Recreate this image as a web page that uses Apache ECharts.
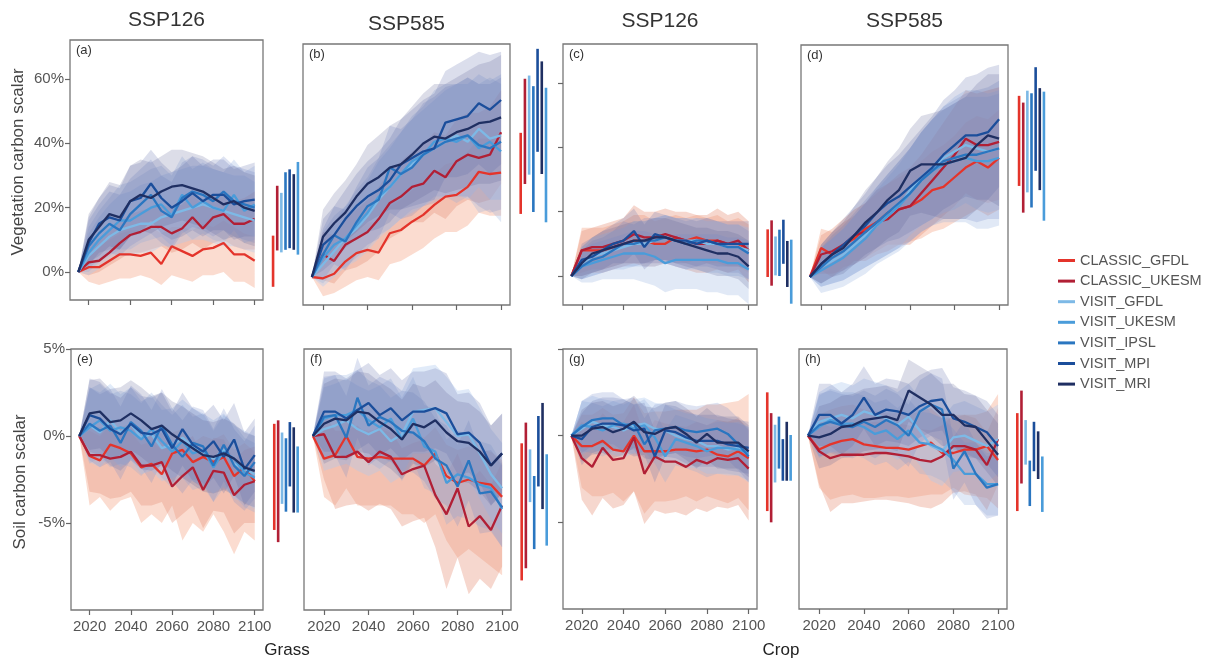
<!DOCTYPE html>
<html>
<head>
<meta charset="utf-8">
<title>Carbon scalar</title>
<script src="https://cdn.jsdelivr.net/npm/echarts@6/dist/echarts.min.js"></script>
<style>
  html, body { margin: 0; padding: 0; background: #fff; }
  #main { width: 1210px; height: 662px; }
</style>
</head>
<body>
<div id="main"></div>
<script>
const years = [2015, 2020, 2025, 2030, 2035, 2040, 2045, 2050, 2055, 2060, 2065, 2070, 2075, 2080, 2085, 2090, 2095, 2100]
const models = ['CLASSIC_GFDL', 'CLASSIC_UKESM', 'VISIT_GFDL', 'VISIT_UKESM', 'VISIT_IPSL', 'VISIT_MPI', 'VISIT_MRI']
const yearTicks = [2020, 2040, 2060, 2080, 2100]
const vegTicks = [0, 20, 40, 60]
const soilTicks = [-5, 0, 5]
const scenarios = ['SSP126', 'SSP585', 'SSP126', 'SSP585']
const panelTags = ['(a)', '(b)', '(c)', '(d)', '(e)', '(f)', '(g)', '(h)']
// slot of each model in the range bars beside a panel
const barSlot = [0, 1, 2, 6, 3, 4, 5]

// rows follow models order; values in %
const aMid = [
  [0, 1.5, 1.5, 3.5, 5.5, 5.5, 5, 6, 2.5, 8, 6.5, 5, 7, 7.5, 9, 5.5, 5.5, 3.5],
  [0, 3, 3.5, 6, 9, 11.5, 12.5, 14, 14, 12, 13.5, 17, 13.5, 17, 18, 15, 15, 16.5],
  [0, 5, 8, 11, 13, 14, 15, 15, 17, 18, 19, 20, 21, 20, 19, 18, 17, 16],
  [0, 6, 10, 13, 16, 16, 18, 20, 21, 17.5, 24, 20, 22, 20, 19, 24, 19, 21],
  [0, 8, 12, 15, 13, 18, 21, 24, 19, 17, 23, 25, 24, 22, 25, 22, 21, 20],
  [0, 9, 15, 17, 16, 22, 23, 27.5, 23, 20, 22, 24.5, 22, 24, 24, 21, 22, 22.5],
  [0, 10, 14, 18, 17, 22, 24, 23, 25, 26.5, 27, 26, 25, 23, 21, 22, 20, 19]
]
const aLo = [
  [0, -3, -4, -3, -2, -2, -1, -2, -4, -1, -2, -3, -1, -1, 0, -3, -3, -5],
  [0, -1, 0, 2, 4, 6, 6, 7, 8, 6, 7, 9, 7, 9, 10, 8, 7, 7],
  [0, -1, 1, 3, 5, 5, 6, 6, 8, 8, 9, 10, 10, 9, 8, 8, 7, 6],
  [0, 0, 3, 5, 7, 7, 9, 10, 11, 8, 13, 10, 12, 10, 9, 13, 9, 10],
  [0, 1, 4, 6, 5, 8, 10, 12, 9, 7, 12, 14, 13, 11, 13, 11, 10, 9],
  [0, 2, 6, 7, 7, 11, 12, 16, 12, 10, 11, 13, 11, 13, 13, 10, 11, 11],
  [0, 3, 5, 8, 7, 11, 13, 12, 14, 15, 16, 15, 14, 12, 10, 11, 9, 8]
]
const aHi = [
  [0, 6, 8, 10, 12, 13, 13, 14, 12, 14, 14, 13, 15, 14, 16, 14, 12, 11],
  [0, 8, 10, 13, 16, 18, 19, 20, 21, 20, 21, 24, 21, 24, 25, 22, 23, 25],
  [0, 12, 17, 21, 24, 25, 27, 28, 30, 31, 32, 33, 33, 32, 31, 30, 30, 28],
  [0, 14, 19, 23, 27, 28, 30, 32, 33, 30, 36, 32, 34, 32, 31, 35, 31, 33],
  [0, 16, 21, 25, 24, 29, 32, 35, 30, 28, 34, 36, 35, 33, 36, 33, 32, 31],
  [0, 17, 23, 27, 26, 33, 34, 38, 34, 31, 33, 36, 33, 35, 35, 32, 33, 34],
  [0, 18, 23, 28, 27, 33, 35, 34, 36, 38, 38, 37, 36, 34, 32, 33, 31, 30]
]
const aBar = [[-4.6, 11.3], [6.7, 26.8], [6.1, 24.6], [5.4, 34.2], [6.9, 31], [7.4, 31.9], [6.9, 30.4]]

const bMid = [
  [0, -0.4, 1, 4.8, 7.4, 8.4, 7.6, 13.6, 14.6, 17.2, 19.3, 22.4, 25, 25.5, 28, 32.7, 32, 32.4],
  [0, 7, 5, 10, 12, 14, 18, 23, 25, 28, 29, 33, 31, 36, 38, 37, 38, 45],
  [0, 4, 8, 12, 15, 19, 24, 28, 32, 35, 38, 40, 42, 44, 42, 46, 43, 44],
  [0, 6, 10, 12, 16, 20, 25, 28, 32, 36, 38, 42, 43, 42, 44, 40, 42, 39],
  [0, 7, 13, 11, 17, 22, 24, 34, 32, 34, 38, 40, 42, 43, 44, 41, 40, 42],
  [0, 10, 13, 18, 22, 25, 27, 30, 35, 37, 39, 40, 48, 49, 50, 54, 52, 55],
  [0, 12.5, 16.7, 20, 25, 29, 31, 34, 35, 38, 41.5, 43.6, 43, 45, 46, 47.8, 48.3, 49.6]
]
const bLo = [
  [0, -6, -5, -3, -1, 0, -1, 4, 5, 7, 9, 12, 14, 14, 16, 20, 19, 19],
  [0, -1, -2, 2, 3, 5, 8, 12, 14, 17, 17, 20, 18, 22, 24, 23, 24, 29],
  [0, -3, 0, 3, 5, 8, 12, 15, 18, 20, 22, 24, 25, 26, 24, 28, 24, 24],
  [0, -2, 2, 3, 6, 9, 13, 15, 18, 21, 22, 25, 25, 23, 25, 20, 21, 17],
  [0, -1, 4, 2, 7, 10, 12, 20, 18, 19, 22, 23, 25, 25, 25, 22, 20, 21],
  [0, 2, 5, 9, 12, 14, 15, 17, 21, 22, 23, 24, 31, 31, 32, 35, 32, 35],
  [0, 4, 8, 11, 14, 17, 19, 21, 21, 23, 25, 27, 26, 27, 28, 29, 29, 30]
]
const bHi = [
  [0, 5, 8, 12, 15, 17, 17, 22, 24, 27, 29, 32, 35, 36, 39, 43, 43, 44],
  [0, 14, 13, 18, 21, 24, 28, 33, 36, 39, 41, 45, 44, 49, 51, 51, 53, 58],
  [0, 12, 17, 22, 25, 30, 36, 40, 45, 49, 52, 55, 58, 60, 60, 63, 61, 63],
  [0, 14, 19, 22, 27, 31, 37, 41, 45, 50, 53, 58, 60, 60, 62, 60, 62, 60],
  [0, 15, 22, 21, 28, 34, 37, 47, 46, 49, 54, 56, 59, 60, 62, 60, 60, 62],
  [0, 18, 22, 27, 32, 36, 39, 43, 49, 52, 55, 57, 64, 66, 68, 70, 69, 70],
  [0, 21, 26, 30, 35, 41, 44, 47, 49, 53, 57, 60, 60, 62, 64, 66, 67, 69]
]
const bBar = [[19.6, 44.8], [28.9, 61.6], [31.8, 62.6], [17, 58.8], [20.2, 59.3], [38.9, 70.9], [32, 67]]

const cMid = [
  [0, 8, 8, 8, 9, 10, 11, 11, 10, 10, 12, 11, 12, 11, 11, 10, 10, 8],
  [0, 8, 9, 9, 10, 11, 13, 12, 12, 13, 12, 11, 10, 10, 11, 10, 11, 8],
  [0, 4, 6, 7, 8, 9, 10, 10, 11, 12, 11, 11, 11, 10, 10, 9, 9, 8],
  [0, 3, 4, 5, 6, 7, 7, 7, 6, 4, 5, 5, 5, 5, 5, 4, 4, 2],
  [0, 3, 5, 6, 8, 10, 10, 11, 11, 12, 11, 10, 11, 11, 10, 9, 9, 7],
  [0, 5, 6, 8, 10, 11, 14, 9, 13, 12, 11, 11, 10, 11, 10, 10, 10, 10],
  [0, 4, 7, 8, 9, 10, 11, 11, 12, 12, 11, 10, 9, 8, 7, 7, 6, 3]
]
const cLo = [
  [0, 1, 2, 2, 3, 4, 4, 4, 4, 4, 5, 4, 5, 4, 4, 3, 3, 1],
  [0, 0, 1, 1, 2, 3, 4, 3, 3, 4, 3, 2, 1, 1, 2, 1, 2, -2],
  [0, -1, 0, 1, 2, 2, 3, 3, 3, 4, 3, 2, 2, 1, 1, 0, 0, -1],
  [0, -2, -2, -1, -1, -1, -1, -2, -3, -5, -4, -4, -4, -5, -5, -6, -6, -8.8],
  [0, -1, 0, 1, 2, 3, 3, 4, 4, 4, 3, 2, 3, 3, 2, 1, 1, -1],
  [0, 0, 1, 2, 4, 4, 7, 2, 5, 5, 4, 4, 3, 4, 3, 3, 3, 2],
  [0, -1, 1, 2, 3, 4, 4, 4, 5, 5, 4, 3, 2, 1, 0, 0, -1, -4]
]
const cHi = [
  [0, 15, 15, 15, 16, 17, 19, 19, 17, 18, 19, 18, 19, 18, 19, 17, 18, 16],
  [0, 14, 15, 16, 17, 18, 22, 20, 20, 21, 20, 20, 19, 19, 21, 19, 20, 17],
  [0, 9, 12, 13, 14, 15, 17, 17, 18, 19, 18, 18, 18, 17, 17, 16, 16, 15],
  [0, 8, 10, 11, 12, 13, 14, 14, 13, 12, 13, 13, 13, 13, 13, 12, 12, 11],
  [0, 8, 11, 12, 14, 17, 16, 18, 18, 19, 18, 17, 18, 18, 17, 16, 16, 14],
  [0, 10, 12, 14, 16, 18, 21, 16, 20, 19, 18, 18, 17, 18, 17, 17, 17, 17],
  [0, 9, 12, 14, 15, 16, 17, 17, 18, 18, 17, 16, 15, 15, 14, 14, 13, 11]
]
const cBar = [[-0.3, 14.5], [-3, 17.3], [0.2, 12.3], [-8.6, 11.3], [0, 14.4], [3.8, 17.5], [-3.4, 10.9]]

const dMid = [
  [0, 9, 7, 10, 12, 15, 17, 20, 21, 22, 24, 27, 28, 31, 34, 36, 34, 37],
  [0, 7, 8, 10, 13, 14, 17, 18, 21, 22, 26, 30, 34, 38, 43, 41, 41, 42],
  [0, 3, 5, 7, 10, 13, 16, 19, 22, 27, 31, 34, 37, 39, 41, 40, 39, 40],
  [0, 2, 4, 6, 9, 12, 16, 19, 22, 26, 30, 33, 35, 36, 37, 36, 36, 37],
  [0, 3, 6, 8, 11, 14, 17, 20, 23, 26, 30, 33, 36, 37, 38, 38, 39, 40],
  [0, 4, 7, 10, 13, 16, 20, 23, 25, 28, 31, 34, 38, 41, 44, 44, 45, 49],
  [0, 4, 7, 9, 13, 17, 20, 24, 27, 33, 35, 35, 35, 36, 37, 41, 44, 43]
]
const dLo = [
  [0, 2, 0, 3, 4, 6, 8, 10, 10, 11, 12, 14, 15, 17, 19, 21, 19, 21],
  [0, 1, 1, 2, 5, 5, 7, 8, 10, 10, 13, 16, 19, 22, 26, 24, 23, 24],
  [0, -3, -2, -1, 1, 3, 5, 7, 9, 13, 16, 18, 20, 21, 23, 21, 20, 21],
  [0, -5, -4, -3, -1, 1, 4, 6, 8, 11, 14, 16, 17, 17, 17, 15, 15, 16],
  [0, -3, -2, -1, 1, 3, 5, 7, 9, 11, 14, 16, 18, 18, 18, 17, 18, 18],
  [0, -2, 0, 2, 4, 6, 9, 11, 12, 14, 16, 18, 21, 23, 25, 24, 24, 28],
  [0, -2, 0, 1, 4, 7, 9, 12, 14, 19, 20, 19, 18, 18, 18, 21, 24, 22]
]
const dHi = [
  [0, 15, 14, 17, 19, 23, 26, 29, 31, 33, 36, 39, 41, 44, 48, 50, 49, 52],
  [0, 13, 15, 18, 21, 23, 27, 29, 32, 34, 38, 43, 48, 53, 58, 57, 58, 59],
  [0, 9, 12, 15, 19, 23, 27, 31, 35, 40, 45, 49, 53, 56, 58, 58, 57, 58],
  [0, 9, 12, 15, 19, 23, 28, 32, 36, 40, 45, 49, 52, 54, 56, 56, 56, 57],
  [0, 9, 13, 16, 20, 24, 28, 32, 36, 40, 45, 49, 53, 55, 57, 58, 59, 61],
  [0, 10, 14, 18, 22, 26, 31, 35, 38, 42, 46, 50, 55, 58, 62, 63, 65, 66],
  [0, 10, 14, 17, 22, 27, 31, 36, 40, 46, 50, 51, 52, 54, 56, 60, 63, 63]
]
const dBar = [[28.3, 56.3], [20, 54.2], [26.3, 57.9], [17.5, 57.6], [21.6, 57.1], [33, 65.2], [27, 58.7]]

const eMid = [
  [0, -1.15, -1.4, -0.5, -0.7, -1, -1.8, -1.6, -2.2, -1, -0.8, -1.5, -1.2, -1.5, -1.2, -2.3, -1.8, -2.6],
  [0, -1.1, -1.1, -1.3, -1.2, -0.9, -1.7, -1.7, -1.5, -2.9, -2.3, -1.8, -3.1, -2, -2.1, -3.4, -2.8, -2.6],
  [0, 0.6, 0.2, 0.9, 0.2, 0.7, -0.1, 0.1, -0.7, -0.5, -0.1, -0.6, -0.9, -1.3, -0.8, -1.6, -1.9, -2.2],
  [0, 0.5, 0.9, 0.3, 0.5, 0.3, -0.2, 0.4, -0.3, -0.9, -0.3, -1, -0.8, -1.8, -0.9, -1.3, -2.1, -2.4],
  [0, 0.7, 0.3, 0.6, -0.4, 0.8, 0.3, -0.6, 0.6, -0.5, -1.2, -0.4, -0.6, -1.7, -0.5, -1.7, -2.3, -1.5],
  [0, 1.2, 1, 0.4, 0.1, 0.7, 0.2, 0.1, 0.4, -0.7, 0.4, -0.5, -0.9, -0.3, -1.2, -0.2, -1.9, -1.1],
  [0, 1.3, 1.4, 0.8, 0.9, 1.3, 0.9, 0.4, 0.6, 0.1, -0.3, -0.7, -1.1, -1.2, -1, -1.3, -1.8, -2]
]
const eLo = [
  [0, -4, -3.5, -4.3, -3.7, -3.5, -5, -4.5, -5, -4, -6, -5, -5.5, -4.5, -5.5, -6.8, -5.5, -6],
  [0, -3.2, -3.3, -3.6, -3.5, -3.2, -4, -4, -3.8, -5, -4.5, -4, -5.3, -4.3, -4.4, -5.6, -5, -5],
  [0, -1.5, -1.8, -1.2, -1.8, -1.4, -2.2, -2, -2.6, -2.4, -2.2, -2.6, -2.9, -3.3, -2.9, -3.6, -3.8, -4.2],
  [0, -1.6, -1.2, -1.8, -1.6, -1.8, -2.3, -1.7, -2.4, -3, -2.4, -3.1, -2.9, -3.8, -3, -3.4, -4.1, -4.4],
  [0, -1.4, -1.8, -1.5, -2.5, -1.3, -1.8, -2.7, -1.5, -2.6, -3.3, -2.5, -2.7, -3.8, -2.6, -3.8, -4.3, -3.6],
  [0, -0.9, -1.1, -1.7, -2, -1.4, -1.9, -2, -1.7, -2.8, -1.7, -2.6, -3, -2.4, -3.3, -2.3, -4, -3.2],
  [0, -0.8, -0.7, -1.3, -1.2, -0.8, -1.2, -1.7, -1.5, -2, -2.4, -2.8, -3.2, -3.3, -3.1, -3.4, -3.9, -4.1]
]
const eHi = [
  [0, 0.3, 0, 0.6, 0.4, 0.2, -0.5, -0.3, -0.8, 0.2, 0.4, -0.4, 0, -0.2, 0.1, -0.8, -0.4, -0.9],
  [0, 0.5, 0.5, 0.4, 0.5, 0.7, 0, 0, 0.2, -1, -0.4, 0, -1.2, -0.1, -0.2, -1.4, -0.8, -0.6],
  [0, 2.8, 2.5, 3, 2.4, 2.8, 2, 2.3, 1.5, 1.6, 2.1, 1.6, 1.3, 0.9, 1.3, 0.6, 0.3, 0],
  [0, 2.7, 3, 2.4, 2.6, 2.4, 1.9, 2.5, 1.8, 1.2, 1.8, 1.1, 1.3, 0.3, 1.2, 0.7, -0.1, -0.4],
  [0, 2.8, 2.4, 2.7, 1.7, 2.9, 2.4, 1.5, 2.7, 1.6, 0.9, 1.7, 1.5, 0.4, 1.6, 0.4, -0.3, 0.6],
  [0, 3.3, 3.1, 2.5, 2.2, 2.8, 2.3, 2.2, 2.5, 1.4, 2.5, 1.6, 1.2, 1.8, 0.9, 1.9, 0.2, 1],
  [0, 3.2, 3.3, 2.7, 2.8, 3.2, 2.8, 2.3, 2.5, 2, 1.7, 1.3, 0.9, 0.8, 1, 0.7, 0.2, 0]
]
const eBar = [[-5.4, 0.7], [-6.1, 0.9], [-3.9, 0.2], [-4.4, -0.6], [-4.35, -0.13], [-2.9, 0.8], [-4.4, 0.5]]

const fMid = [
  [0, -1.3, -1.1, 0, -1.2, -1.3, -1.2, -1.3, -1.3, -1.3, -1.7, -1, -2.3, -2.7, -2.5, -2.7, -2.8, -3.5],
  [0, 0.1, -1.2, -1.2, -0.9, -1.5, -0.9, -1.2, -2.2, -1.9, -1.7, -3.4, -4.5, -3, -5.2, -4.6, -5.4, -4],
  [0, 0.4, 0.6, 0.9, 0.4, 0.1, 0.4, -0.3, 0.1, 1.4, 1.5, 1.6, 0.8, 0, 0.1, -1, -2.2, -3],
  [0, 1, 1.2, 1.2, 1.5, 0.9, 0.5, 1, -0.2, 1, -0.6, -0.9, -2.7, -2.2, -2.4, -2.8, -3, -4.2],
  [0, 1.1, 1.2, -0.1, 2.2, 0.6, 1.1, 0.8, 0.3, 0.2, -0.3, -1.3, -1.7, -2.9, -1.4, -3.3, -3.2, -4.1],
  [0, 1.4, 1.4, 1, 1.5, 1.9, 1.2, 1.6, 0.9, 1.4, 1.4, 1.6, 1.3, 0.1, 0.2, -0.4, -1.7, -1],
  [0, 0.7, 1, 0.9, 1.4, 1.3, 0.8, 0.4, -0.2, 0.7, 0.5, 0.9, 0.2, -0.3, -0.4, -0.9, -1.7, -1]
]
const fLo = [
  [0, -3.5, -4, -3, -4, -4, -4, -4, -4.5, -4.5, -5, -4.5, -6, -7, -6.5, -7, -7.5, -8],
  [0, -2.5, -4.2, -4, -3.9, -4.3, -3.9, -4.2, -5.2, -4.9, -4.7, -6.4, -8.8, -7, -9.1, -8.2, -8.8, -7.5],
  [0, -2, -1.8, -1.6, -2, -2.3, -2, -2.7, -2.3, -1, -1, -0.9, -1.8, -2.6, -2.5, -3.6, -4.8, -5.6],
  [0, -1.4, -1.2, -1.2, -0.9, -1.5, -1.9, -1.4, -2.6, -1.4, -3, -3.3, -5.1, -4.6, -4.8, -5.2, -5.4, -6.4],
  [0, -1.2, -1.1, -2.4, -0.1, -1.7, -1.2, -1.5, -2, -2.1, -2.6, -3.6, -4, -5.2, -3.7, -5.6, -5.5, -6.4],
  [0, -0.9, -0.9, -1.3, -0.8, -0.4, -1.1, -0.7, -1.4, -0.9, -0.9, -0.7, -1, -2.2, -2.1, -2.7, -4, -3.3],
  [0, -1.6, -1.3, -1.4, -0.9, -1, -1.5, -1.9, -2.5, -1.6, -1.8, -1.4, -2.1, -2.6, -2.7, -3.2, -4, -3.3]
]
const fHi = [
  [0, 0.3, 0.5, 1.3, 0.4, 0.3, 0.4, 0.2, 0.2, 0.2, -0.1, 0.5, -0.5, -0.8, -0.6, -0.8, -0.9, -1.4],
  [0, 1.3, 0.3, 0.3, 0.6, 0, 0.6, 0.3, -0.7, -0.4, -0.2, -1.6, -2.2, -1, -2.6, -2, -2.8, -1.5],
  [0, 2.8, 3, 3.3, 2.9, 2.6, 2.9, 2.2, 2.6, 3.9, 4, 4.1, 3.4, 2.6, 2.7, 1.6, 0.4, -0.4],
  [0, 3.3, 3.5, 3.5, 3.8, 3.2, 2.9, 3.3, 2.2, 3.4, 1.8, 1.5, -0.2, 0.3, 0.1, -0.3, -0.5, -1.6],
  [0, 3.4, 3.5, 2.3, 4.5, 2.9, 3.4, 3.1, 2.6, 2.5, 2, 1, 0.6, -0.5, 0.9, -0.9, -0.8, -1.7],
  [0, 3.7, 3.7, 3.3, 3.8, 4.2, 3.5, 3.9, 3.2, 3.7, 3.7, 3.9, 3.6, 2.4, 2.5, 1.9, 0.6, 1.3],
  [0, 3, 3.3, 3.2, 3.7, 3.6, 3.1, 2.7, 2.1, 3, 2.8, 3.2, 2.5, 2, 1.9, 1.4, 0.6, 1.3]
]
const fBar = [[-8.3, -0.42], [-7.6, 0.77], [-3.8, -0.77], [-6.3, -1.05], [-6.5, -2.3], [-2.9, 1.15], [-4.2, 1.9]]

const gMid = [
  [0, -0.6, -0.6, -0.3, -0.8, -0.9, 0, -0.9, -0.9, -0.9, -0.8, -0.8, -0.9, -0.8, -1.1, -1.2, -0.9, -1.3],
  [0, -1.3, -1.8, -0.7, -1.4, -1.3, -0.1, -2.2, -1.2, -1.5, -1.5, -1.8, -1.4, -1.6, -1.3, -1.4, -1.3, -1.9],
  [0, 0.4, 0.8, 0.6, 0.5, 0.3, 0.6, 0.7, 0.4, 0.3, 0, -0.2, -0.3, -0.6, -0.6, -0.8, -0.7, -1.1],
  [0, 0.6, 0.5, 0.3, 0.6, 0.7, 0.4, 0.6, -0.1, -1.2, -0.2, -0.4, -0.6, -0.9, -0.7, -0.7, -0.8, -1],
  [0, 0.5, 0.9, 1, 1, 0.6, 0.7, -0.5, 0.3, 0.4, 0.5, 0.3, 0.2, 0.3, 0.4, 0.1, -0.5, -1.2],
  [0, -0.2, 0.5, 0.7, 0.7, 0.6, 0.3, 0.4, -1.2, 0.3, 0.2, -0.1, -0.3, -0.3, -0.3, -0.5, -0.6, -0.7],
  [0, 0, 0.4, 0.5, 0.2, 0.4, 0.8, 0.2, 0.1, 0.4, 0.5, 0.1, -0.4, 0.1, -0.4, -0.4, -0.4, -0.9]
]
const gLo = [
  [0, -3, -3.5, -3.5, -3.3, -3.8, -3.2, -4.5, -3.8, -3.8, -3.7, -3.5, -3.8, -3.5, -3.7, -3.9, -3.6, -4.3],
  [0, -3.7, -4.6, -3.6, -4.2, -4, -3.2, -5.1, -4.3, -4.5, -4.4, -4.6, -4.2, -4.4, -4.1, -4.2, -4, -4.9],
  [0, -1.1, -0.8, -1, -1.1, -1.3, -1, -0.9, -1.3, -1.4, -1.6, -1.8, -1.9, -2.2, -2.2, -2.3, -2.3, -2.7],
  [0, -0.9, -1, -1.2, -0.9, -0.8, -1.1, -0.9, -1.6, -2.7, -1.7, -1.9, -2.1, -2.4, -2.2, -2.2, -2.3, -2.6],
  [0, -1, -0.6, -0.5, -0.5, -0.9, -0.8, -2, -1.2, -1.1, -1, -1.2, -1.3, -1.2, -1.1, -1.4, -2, -2.7],
  [0, -1.7, -1, -0.8, -0.8, -0.9, -1.2, -1.1, -2.7, -1.2, -1.3, -1.6, -1.8, -1.8, -1.8, -2, -2.1, -2.2],
  [0, -1.5, -1.1, -1, -1.3, -1.1, -0.7, -1.3, -1.4, -1.1, -1, -1.4, -1.9, -1.4, -1.9, -1.9, -1.9, -2.4]
]
const gHi = [
  [0, 1.2, 1.2, 1.6, 1.2, 1.3, 2.2, 1.3, 1.4, 1.4, 1.5, 1.5, 1.5, 1.8, 1.8, 1.9, 2, 2.4],
  [0, 0.8, 0.4, 1.3, 0.7, 0.8, 1.8, 0, 0.9, 0.7, 0.6, 0.5, 0.8, 0.6, 0.9, 0.8, 1, 0.4],
  [0, 2, 2.3, 2.1, 2, 1.8, 2.1, 2.2, 1.9, 1.8, 1.5, 1.3, 1.2, 1, 0.9, 0.7, 0.8, 0.5],
  [0, 2, 1.9, 1.7, 2, 2.1, 1.8, 2.1, 1.4, 0.3, 1.2, 1, 0.8, 0.6, 0.8, 0.8, 0.7, 0.5],
  [0, 2, 2.4, 2.5, 2.5, 2.1, 2.2, 1, 1.8, 1.9, 2, 1.8, 1.7, 1.8, 1.9, 1.6, 1, 0.3],
  [0, 1.3, 2, 2.2, 2.2, 2.1, 1.8, 1.9, 0.3, 1.8, 1.7, 1.4, 1.2, 1.2, 1.2, 1, 0.9, 0.8],
  [0, 1.5, 1.9, 2, 1.7, 1.9, 2.3, 1.7, 1.6, 1.9, 2, 1.6, 1.1, 1.6, 1.1, 1.1, 1.1, 0.6]
]
const gBar = [[-4.35, 2.5], [-5, 1.3], [-2.7, 0.63], [-2.6, 0.04], [-1.9, 1.1], [-2.6, -0.2], [-2.6, 0.8]]

const hMid = [
  [0, -0.8, -0.5, -0.3, -0.2, -0.5, -0.6, -0.7, -0.7, -0.8, -0.6, -0.4, -1, -1, -0.8, -0.8, -0.6, -1.4],
  [0, -0.9, -1.3, -1.1, -1.1, -1.1, -1, -1, -1.1, -1.2, -1.4, -1.5, -1.2, -0.6, -0.6, -0.8, -1.7, -0.2],
  [0, 0.8, 1, 1.2, 1, 1.4, 1.2, 1, 0.6, 1.1, 0.3, -0.6, -0.9, -0.1, 0, -0.3, -0.6, -0.2],
  [0, 0.5, 0.9, 0.7, 0.7, 0.5, 0.1, 0.3, -0.2, 0.3, -0.4, -0.5, -0.8, -1.4, -2.2, -2.2, -2.8, -2.8],
  [0, 0.6, 0.8, 0.6, 0.5, 0.8, 0.5, 0.9, 0.6, 0, 1.4, 1.8, 1.5, -1.9, -0.9, -2.2, -3, -2.8],
  [0, 1.2, 1.2, 0.7, 1.2, 2.2, 1.2, 1.5, 1.4, 1.2, 1.7, 2, 2.1, 1, 0.8, 0.5, 0.2, -0.6],
  [0, -0.1, 0.1, 0.5, 0.6, 0.9, 1, 1.1, 0.9, 2.6, 2.2, 1.8, 1.2, 1.2, 0.6, 0.5, -0.3, -1.1]
]
const hLo = [
  [0, -3, -3.7, -3.5, -3.4, -3.6, -3.6, -3.5, -3.5, -3.6, -3.5, -3.4, -3.4, -3, -3.4, -3.5, -3.6, -4.2],
  [0, -2.8, -4.4, -3.9, -3.9, -3.8, -3.7, -3.7, -3.8, -3.9, -4.1, -4.2, -3.9, -3.3, -3.2, -3.4, -4.3, -2.8],
  [0, -1.2, -1, -0.8, -1, -0.6, -0.8, -1, -1.4, -0.9, -1.7, -2.6, -2.9, -2.1, -2, -2.3, -2.7, -2.2],
  [0, -1.3, -0.9, -1.1, -1.1, -1.3, -1.7, -1.5, -2, -1.5, -2.2, -2.3, -2.6, -3.2, -4, -4, -4.6, -4.6],
  [0, -1.2, -1, -1.2, -1.3, -1, -1.3, -0.9, -1.2, -1.8, -0.4, 0, -0.3, -3.7, -2.7, -4, -4.8, -4.6],
  [0, -0.6, -0.6, -1.1, -0.6, 0.4, -0.6, -0.3, -0.4, -0.6, -0.1, 0.2, 0.3, -0.8, -1, -1.3, -1.6, -2.4],
  [0, -1.9, -1.7, -1.3, -1.2, -0.9, -0.8, -0.7, -0.9, 0.8, 0.4, 0, -0.6, -0.6, -1.2, -1.3, -2.1, -2.9]
]
const hHi = [
  [0, 1.2, 1.5, 1.7, 1.8, 1.5, 1.4, 1.3, 1.3, 1.2, 1.4, 1.6, 1, 1, 1.2, 1.2, 1.4, 2.4],
  [0, 0.8, 0.5, 0.6, 0.7, 0.7, 0.8, 0.8, 0.7, 0.6, 0.4, 0.3, 0.6, 1.2, 1.2, 1, 0.2, 1.6],
  [0, 2.5, 2.9, 3.1, 2.9, 3.3, 3.1, 2.9, 2.5, 3, 2.2, 1.3, 1, 1.8, 2, 1.7, 1.4, 1.8],
  [0, 2.3, 2.7, 2.5, 2.5, 2.3, 1.9, 2.1, 1.6, 2.1, 1.4, 1.3, 1, 0.4, -0.4, -0.4, -1, -1],
  [0, 2.4, 2.6, 2.4, 2.3, 2.6, 2.3, 2.7, 2.4, 1.8, 3.2, 3.6, 3.3, -0.1, 0.9, -0.4, -1.2, -1],
  [0, 3, 3, 2.5, 3, 4, 3, 3.3, 3.2, 3, 3.5, 3.8, 3.9, 2.8, 2.6, 2.3, 2, 1.2],
  [0, 1.7, 1.9, 2.3, 2.4, 2.7, 2.8, 2.9, 2.7, 4.4, 4, 3.6, 3, 3, 2.4, 2.3, 1.5, 0.7]
]
const hBar = [[-4.35, 1.3], [-2.76, 2.6], [-1.67, 0.9], [-4.4, -1.2], [-4.06, -1.44], [-2.05, 0.8], [-2.5, 0.25]]

const lineColors = ['#e4342b', '#b11f35', '#7db9e6', '#4a9cda', '#2a76c0', '#1b4e9b', '#1f2f62']
const bandColors = [
  'rgba(246,178,150,0.45)', 'rgba(232,150,126,0.38)', 'rgba(175,202,238,0.38)',
  'rgba(140,170,220,0.26)', 'rgba(115,140,200,0.24)', 'rgba(100,112,172,0.23)', 'rgba(95,98,150,0.22)'
]

const panels = [
  { mid: aMid, lo: aLo, hi: aHi, bar: aBar, left: 70, top: 40, width: 193, height: 260, barLeft: 271, barWidth: 29, yMin: -8.7, yMax: 72.1, ticks: vegTicks, yTick: true, yLabel: true, xLabel: false },
  { mid: bMid, lo: bLo, hi: bHi, bar: bBar, left: 303, top: 44, width: 207, height: 261, barLeft: 518.6, barWidth: 29.5, yMin: -8.7, yMax: 72.4, ticks: vegTicks, yTick: false, yLabel: false, xLabel: false },
  { mid: cMid, lo: cLo, hi: cHi, bar: cBar, left: 563, top: 44, width: 194, height: 261, barLeft: 765.7, barWidth: 27.5, yMin: -9, yMax: 72.1, ticks: vegTicks, yTick: true, yLabel: false, xLabel: false },
  { mid: dMid, lo: dLo, hi: dHi, bar: dBar, left: 801, top: 45, width: 207, height: 260, barLeft: 1017, barWidth: 29, yMin: -8.7, yMax: 72.1, ticks: vegTicks, yTick: false, yLabel: false, xLabel: false },
  { mid: eMid, lo: eLo, hi: eHi, bar: eBar, left: 71, top: 349, width: 192, height: 261, barLeft: 272.3, barWidth: 27.3, yMin: -10, yMax: 5, ticks: soilTicks, yTick: true, yLabel: true, xLabel: true },
  { mid: fMid, lo: fLo, hi: fHi, bar: fBar, left: 304, top: 349, width: 207, height: 261, barLeft: 519.6, barWidth: 29.2, yMin: -10, yMax: 5, ticks: soilTicks, yTick: false, yLabel: false, xLabel: true },
  { mid: gMid, lo: gLo, hi: gHi, bar: gBar, left: 563, top: 349, width: 194, height: 260, barLeft: 765.3, barWidth: 27.3, yMin: -10, yMax: 5, ticks: soilTicks, yTick: true, yLabel: false, xLabel: true },
  { mid: hMid, lo: hLo, hi: hHi, bar: hBar, left: 799, top: 349, width: 208, height: 260, barLeft: 1015.2, barWidth: 29.2, yMin: -10, yMax: 5, ticks: soilTicks, yTick: false, yLabel: false, xLabel: true }
]

const font = '"Liberation Sans", Arial, sans-serif'
const grid = []
const xAxis = []
const yAxis = []
const series = []
const graphic = []

panels.forEach((p, pi) => {
  const gi = grid.length
  grid.push({ left: p.left, top: p.top, width: p.width, height: p.height, show: true, borderColor: '#777', borderWidth: 1.3, backgroundColor: 'transparent' })
  grid.push({ left: p.barLeft, top: p.top, width: p.barWidth, height: p.height })
  xAxis.push({
    type: 'value', gridIndex: gi, min: 2011, max: 2104, position: 'bottom',
    axisLine: { show: false, onZero: false }, splitLine: { show: false },
    axisTick: { show: true, customValues: yearTicks, length: 5, lineStyle: { color: '#666', width: 1.2 } },
    axisLabel: { show: p.xLabel, customValues: yearTicks, color: '#555', fontSize: 15, fontFamily: font, margin: 9, formatter: v => String(v) }
  })
  xAxis.push({ type: 'value', gridIndex: gi + 1, min: -0.5, max: 6.5, show: false })
  yAxis.push({
    type: 'value', gridIndex: gi, min: p.yMin, max: p.yMax, position: 'left',
    axisLine: { show: false, onZero: false }, splitLine: { show: false },
    axisTick: { show: p.yTick, customValues: p.ticks, length: 5, lineStyle: { color: '#666', width: 1.2 } },
    axisLabel: { show: p.yLabel, customValues: p.ticks, color: '#555', fontSize: 15, fontFamily: font, margin: 6, formatter: v => v + '%' }
  })
  yAxis.push({ type: 'value', gridIndex: gi + 1, min: p.yMin, max: p.yMax, show: false })

  models.forEach((m, mi) => {
    const lo = p.lo[mi]
    const hi = p.hi[mi]
    series.push({
      type: 'custom', xAxisIndex: gi, yAxisIndex: gi, z: 1, silent: true,
      data: years.map((y, i) => [y, lo[i], hi[i]]),
      encode: { x: 0, y: [1, 2] },
      renderItem: (params, api) => {
        if (params.dataIndex !== 0) return null
        const upper = years.map((y, i) => api.coord([y, hi[i]]))
        const lower = years.map((y, i) => api.coord([y, lo[i]])).reverse()
        return { type: 'polygon', shape: { points: upper.concat(lower) }, style: { fill: bandColors[mi] } }
      }
    })
  })
  models.forEach((m, mi) => {
    series.push({
      name: m, type: 'line', xAxisIndex: gi, yAxisIndex: gi, z: 3,
      data: years.map((y, i) => [y, p.mid[mi][i]]),
      symbol: 'none', lineStyle: { width: 2.3, color: lineColors[mi] }, itemStyle: { color: lineColors[mi] }
    })
  })
  series.push({
    type: 'custom', xAxisIndex: gi + 1, yAxisIndex: gi + 1, z: 3, silent: true,
    data: p.bar.map((r, mi) => [barSlot[mi], r[0], r[1], mi]),
    encode: { x: 0, y: [1, 2] },
    renderItem: (params, api) => {
      const a = api.coord([api.value(0), api.value(1)])
      const b = api.coord([api.value(0), api.value(2)])
      return { type: 'line', shape: { x1: a[0], y1: a[1], x2: b[0], y2: b[1] }, style: { stroke: lineColors[api.value(3)], lineWidth: 2.6 } }
    }
  })
  graphic.push({ type: 'text', left: p.left + 6, top: p.top + 4, style: { text: panelTags[pi], fontSize: 13, fontFamily: font, fill: '#333' } })
})

const titleY = [20, 24, 21, 21]
scenarios.forEach((s, i) => {
  const p = panels[i]
  graphic.push({ type: 'text', x: p.left + p.width / 2, y: titleY[i], style: { text: s, fontSize: 21, fontFamily: font, fill: '#333', align: 'center', verticalAlign: 'middle' } })
})
graphic.push({ type: 'text', x: 18, y: 162, rotation: Math.PI / 2, style: { text: 'Vegetation carbon scalar', fontSize: 17, fontFamily: font, fill: '#444', align: 'center', verticalAlign: 'middle' } })
graphic.push({ type: 'text', x: 20, y: 482, rotation: Math.PI / 2, style: { text: 'Soil carbon scalar', fontSize: 17, fontFamily: font, fill: '#444', align: 'center', verticalAlign: 'middle' } })
graphic.push({ type: 'text', x: 287, y: 650, style: { text: 'Grass', fontSize: 17, fontFamily: font, fill: '#222', align: 'center', verticalAlign: 'middle' } })
graphic.push({ type: 'text', x: 781, y: 650, style: { text: 'Crop', fontSize: 17, fontFamily: font, fill: '#222', align: 'center', verticalAlign: 'middle' } })

const chart = echarts.init(document.getElementById('main'))
chart.setOption({
  animation: false,
  backgroundColor: '#fff',
  legend: {
    data: models, orient: 'vertical', left: 1058, top: 253, padding: 0,
    icon: 'rect', itemWidth: 17, itemHeight: 3, itemGap: 5.6, selectedMode: false,
    textStyle: { fontSize: 14.5, lineHeight: 14, color: '#555', fontFamily: font }
  },
  grid: grid,
  xAxis: xAxis,
  yAxis: yAxis,
  series: series,
  graphic: graphic
})
</script>
</body>
</html>
